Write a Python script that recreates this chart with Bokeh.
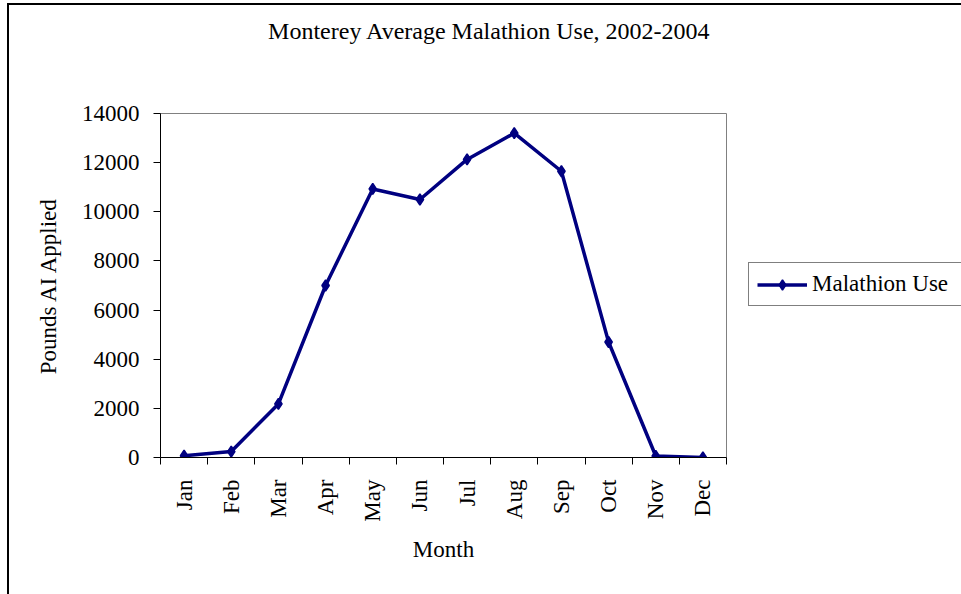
import numpy as np
from bokeh.plotting import figure
from bokeh.layouts import column, row
from bokeh.models import Range1d, FixedTicker, Legend, LegendItem, Label
from bokeh.embed import file_html
from bokeh.resources import INLINE

# ---- data ----
months = ["Jan", "Feb", "Mar", "Apr", "May", "Jun", "Jul", "Aug", "Sep", "Oct", "Nov", "Dec"]
malathion = [70, 240, 2180, 7000, 10930, 10500, 12130, 13200, 11650, 4700, 60, 0]
y_ticks = [0, 2000, 4000, 6000, 8000, 10000, 12000, 14000]

title_text = "Monterey Average Malathion Use, 2002-2004"
x_title = "Month"
y_title = "Pounds AI Applied"
series_name = "Malathion Use"

# ---- style ----
FONT = "Liberation Serif"
FS = "23px"
NAVY = "#000080"

W, H = 961, 594
TOP_H = 93                            # height of the title strip
FL, FR, FT, FB = 160, 726, 113, 457   # plot-area edges on the page
MAIN_W = FR + 5
MAIN_H = H - TOP_H
LEG_W = W - MAIN_W

xs = [i + 0.5 for i in range(len(months))]


def bare(width, height, xr, yr):
    f = figure(width=width, height=height, output_backend="svg", toolbar_location=None,
               x_axis_type=None, y_axis_type=None, min_border=0,
               x_range=xr, y_range=yr)
    f.xgrid.visible = False
    f.ygrid.visible = False
    f.outline_line_color = None
    f.background_fill_alpha = 0
    f.border_fill_alpha = 0
    return f


# ---- title strip ----
tf = bare(W, TOP_H, Range1d(0, W), Range1d(0, TOP_H))
tf.add_layout(Label(x=489, y=TOP_H - 30, x_units="screen", y_units="screen",
                    text=title_text, text_align="center", text_baseline="alphabetic",
                    text_font=FONT, text_font_size="24px", text_color="black"))

# ---- main chart ----
p = figure(width=MAIN_W, height=MAIN_H, output_backend="svg", toolbar_location=None,
           x_range=Range1d(0, len(months)), y_range=Range1d(y_ticks[0], y_ticks[-1]),
           min_border_left=FL, min_border_right=MAIN_W - FR,
           min_border_top=FT - TOP_H, min_border_bottom=H - FB)
p.background_fill_color = "white"
p.border_fill_alpha = 0
p.outline_line_color = "#808080"
p.outline_line_width = 1
p.xgrid.visible = False
p.ygrid.visible = False

line_r = p.line(xs, malathion, line_color=NAVY, line_width=3.5)
pts_r = p.scatter(xs, malathion, marker="diamond", size=11,
                  fill_color=NAVY, line_color=NAVY, line_width=1.5)

xa = p.xaxis[0]
xa.ticker = FixedTicker(ticks=xs, minor_ticks=list(range(len(months) + 1)))
xa.major_label_overrides = {x: m for x, m in zip(xs, months)}
xa.major_tick_out = 0
xa.major_tick_in = 0
xa.minor_tick_out = 7
xa.minor_tick_in = 0
xa.minor_tick_line_color = "black"
xa.major_label_orientation = np.pi / 2
xa.major_label_standoff = 15
xa.axis_line_color = "black"
xa.major_label_text_font = FONT
xa.major_label_text_font_size = FS
xa.major_label_text_color = "black"
xa.axis_label = x_title
xa.axis_label_text_font = FONT
xa.axis_label_text_font_size = FS
xa.axis_label_text_font_style = "normal"
xa.axis_label_text_color = "black"
xa.axis_label_standoff = 12

ya = p.yaxis[0]
ya.ticker = FixedTicker(ticks=y_ticks, minor_ticks=[])
ya.major_tick_out = 7
ya.major_tick_in = 0
ya.minor_tick_out = 0
ya.minor_tick_in = 0
ya.major_tick_line_color = "black"
ya.axis_line_color = "black"
ya.major_label_standoff = 14
ya.major_label_text_font = FONT
ya.major_label_text_font_size = FS
ya.major_label_text_color = "black"
ya.axis_label = y_title
ya.axis_label_text_font = FONT
ya.axis_label_text_font_size = FS
ya.axis_label_text_font_style = "normal"
ya.axis_label_text_color = "black"
ya.axis_label_standoff = 18

# ---- legend strip (its frame is aligned with the main plot area) ----
lf = bare(LEG_W, MAIN_H, Range1d(-2, -1), Range1d(-2, -1))
lg_line = lf.line(xs, malathion, line_color=NAVY, line_width=3.5)
lg_pts = lf.scatter(xs, malathion, marker="diamond", size=11,
                    fill_color=NAVY, line_color=NAVY, line_width=1.5)
legend = Legend(items=[LegendItem(label=series_name, renderers=[lg_line, lg_pts])],
                location=(748 - MAIN_W, FB - 306))
legend.border_line_color = "black"
legend.border_line_width = 1
legend.background_fill_color = "white"
legend.background_fill_alpha = 1
legend.padding = 8
legend.margin = 0
legend.spacing = 0
legend.glyph_width = 50
legend.glyph_height = 25
legend.label_height = 25
legend.label_width = 170
legend.label_standoff = 5
legend.label_text_font = FONT
legend.label_text_font_size = FS
legend.label_text_color = "black"
legend.label_text_baseline = "middle"
lf.add_layout(legend, "center")

page = column(tf, row(p, lf, spacing=0), spacing=0,
              styles={"background": "linear-gradient(#000,#000) 7px 3px / 2px 100% no-repeat, "
                                    "linear-gradient(#000,#000) 7px 3px / 100% 2px no-repeat, #fff"})

open("out.html", "w").write(file_html(page, INLINE))
